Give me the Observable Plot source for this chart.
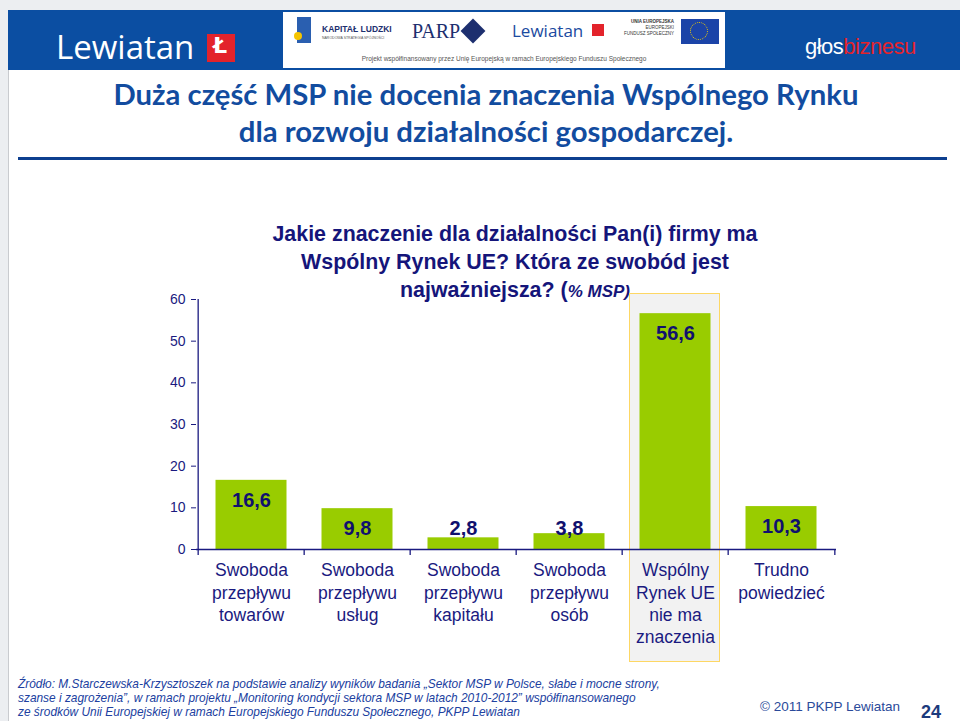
<!DOCTYPE html>
<html>
<head>
<meta charset="utf-8">
<script src="https://cdn.jsdelivr.net/npm/d3@7"></script>
<script src="https://cdn.jsdelivr.net/npm/@observablehq/plot@0.6"></script>
<style>
  html, body { margin: 0; padding: 0; }
  body { width: 960px; height: 721px; position: relative; overflow: hidden; background: #eceef1; font-family: "Liberation Sans", Arial, sans-serif; }
  .abs { position: absolute; }
  #slide { left: 8px; top: 10px; width: 960px; height: 711px; background: #fff; border-left: 1px solid #c9cbcf; }
  #band { left: 8px; top: 10px; width: 960px; height: 60px; background: #0b4ea2; }
  #logos { left: 283px; top: 12px; width: 442px; height: 56px; background: #fff; }
  #title { left: 0; width: 972px; top: 75px; text-align: center; font-family: Lato, "Open Sans", sans-serif; font-weight: 700; font-size: 29.3px; line-height: 37px; color: #124c9f; }
  #rule { left: 18px; top: 157px; width: 929px; height: 3px; background: #0d3f8f; }
  #ctitle { left: 165px; width: 700px; top: 220px; text-align: center; font-weight: 700; font-size: 21.4px; line-height: 28px; color: #15157a; }
  #hl { left: 629px; top: 293px; width: 89px; height: 367px; background: #f2f2f2; border: 1.5px solid #fdd764; }
  #chart { left: 0; top: 280px; }
  #src { left: 18px; top: 677px; font-family: "Liberation Sans Narrow", "Liberation Sans", Arial, sans-serif; font-style: italic; font-size: 11.9px; line-height: 14px; color: #2040a0; }
  #copy { left: 760px; top: 699px; font-family: "Liberation Sans Narrow", "Liberation Sans", Arial, sans-serif; font-size: 13.5px; color: #2a4a9a; }
  #page { left: 921px; top: 704px; font-weight: 700; font-size: 18px; line-height: 16px; color: #1c3a7c; }
</style>
</head>
<body>
<div id="slide" class="abs"></div>
<div id="band" class="abs"></div>
<!-- Lewiatan logo left -->
<div class="abs" style="left:56px;top:24px;font-family:'Open Sans',sans-serif;font-size:33px;color:#fff;letter-spacing:0px;">Lewiatan</div>
<div class="abs" style="left:207px;top:34px;width:28px;height:28px;background:#e3232b;"></div>
<div class="abs" style="left:213px;top:33px;font-family:'DejaVu Sans';font-weight:700;font-size:22px;color:#fff;">Ł</div>
<!-- central logo box -->
<div id="logos" class="abs"></div>
<div class="abs" style="left:297px;top:17px;width:14px;height:26px;background:#2a5fb0;"></div>
<div class="abs" style="left:294px;top:32px;width:8px;height:8px;background:#f5c400;border-radius:50%;"></div>
<div class="abs" style="left:322px;top:24px;font-size:8.5px;font-weight:700;color:#1d2f6f;">KAPITAŁ LUDZKI</div>
<div class="abs" style="left:322px;top:36px;font-size:3.5px;color:#555;">NARODOWA STRATEGIA SPÓJNOŚCI</div>
<div class="abs" style="left:412px;top:20px;font-family:'Liberation Serif',serif;font-size:20px;color:#1d2f6f;">PARP</div>
<div class="abs" style="left:462px;top:20px;width:22px;height:22px;background:#1d2f6f;transform:rotate(45deg) scale(0.8);"></div>
<div class="abs" style="left:512px;top:19px;font-family:'Open Sans',sans-serif;font-size:17px;color:#1b4aa0;">Lewiatan</div>
<div class="abs" style="left:592px;top:24px;width:12px;height:12px;background:#e3232b;"></div>
<div class="abs" style="left:612px;top:19px;width:62px;text-align:right;font-size:4.5px;line-height:6px;color:#333;"><b>UNIA EUROPEJSKA</b><br>EUROPEJSKI<br>FUNDUSZ SPOŁECZNY</div>
<div class="abs" style="left:681px;top:19px;width:38px;height:25px;background:#1b44a8;"></div>
<div class="abs" style="left:690px;top:22px;width:18px;height:18px;border:1.5px dotted #f5d000;border-radius:50%;box-sizing:border-box;"></div>
<div class="abs" style="left:283px;top:55px;width:442px;text-align:center;font-size:6.5px;color:#555;">Projekt współfinansowany przez Unię Europejską w ramach Europejskiego Funduszu Społecznego</div>
<!-- głos biznesu -->
<div class="abs" style="left:805px;top:34px;font-family:'Liberation Sans Narrow','Liberation Sans',sans-serif;font-size:22px;letter-spacing:-0.5px;"><span style="color:#fff">głos</span><span style="color:#e3232b">biznesu</span></div>

<div id="title" class="abs">Duża część MSP nie docenia znaczenia Wspólnego Rynku<br>dla rozwoju działalności gospodarczej.</div>
<div id="rule" class="abs"></div>
<div id="ctitle" class="abs">Jakie znaczenie dla działalności Pan(i) firmy ma<br>Wspólny Rynek UE? Która ze swobód jest<br>najważniejsza? (<i style="font-size:17px">% MSP)</i></div>
<div id="hl" class="abs"></div>
<div id="chart" class="abs"></div>
<div id="src" class="abs">Źródło: M.Starczewska-Krzysztoszek na podstawie analizy wyników badania „Sektor MSP w Polsce, słabe i mocne strony,<br>szanse i zagrożenia”, w ramach projektu „Monitoring kondycji sektora MSP w latach 2010-2012” współfinansowanego<br>ze środków Unii Europejskiej w ramach Europejskiego Funduszu Społecznego, PKPP Lewiatan</div>
<div id="copy" class="abs">© 2011 PKPP Lewiatan</div>
<div id="page" class="abs">24</div>

<script>
const categories = ["towary", "usługi", "kapitał", "osoby", "nie ma znaczenia", "trudno powiedzieć"];
const xLabels = [
  "Swoboda\nprzepływu\ntowarów",
  "Swoboda\nprzepływu\nusług",
  "Swoboda\nprzepływu\nkapitału",
  "Swoboda\nprzepływu\nosób",
  "Wspólny\nRynek UE\nnie ma\nznaczenia",
  "Trudno\npowiedzieć"
];
const values = [16.6, 9.8, 2.8, 3.8, 56.6, 10.3];
const yTicks = [0, 10, 20, 30, 40, 50, 60];

const data = categories.map((c, i) => ({cat: c, label: xLabels[i], value: values[i]}));
const navy = "#1a1a80";
const W = 960, ML = 196, MR = 124;
const bw = (W - ML - MR) / categories.length;

const chart = Plot.plot({
  width: W,
  height: 380,
  marginLeft: ML,
  marginRight: MR,
  marginTop: 19,
  marginBottom: 111,
  style: {background: "transparent", color: navy, fontFamily: "'Liberation Sans', Arial, sans-serif", overflow: "visible"},
  x: {domain: categories, padding: 0, axis: null},
  y: {domain: [0, 60], axis: null},
  marks: [
    Plot.barY(data, {x: "cat", y: "value", fill: "#99cc00", insetLeft: 17.5, insetRight: 17.5}),
    Plot.ruleY([0], {stroke: navy, strokeWidth: 1.3}),
    Plot.ruleX(categories, {x: d => d, dx: -bw / 2, y1: 0, y2: 0, insetBottom: -6, stroke: navy, strokeWidth: 1.3}),
    Plot.ruleX([categories[categories.length - 1]], {x: d => d, dx: bw / 2, y1: 0, y2: 0, insetBottom: -6, stroke: navy, strokeWidth: 1.3}),
    Plot.ruleX([categories[0]], {x: d => d, dx: -bw / 2, y1: 0, y2: yTicks[yTicks.length - 1], stroke: navy, strokeWidth: 1.3}),
    Plot.axisY({ticks: yTicks, label: null, tickSize: 5, tickPadding: 6, fontSize: 14, fill: navy, stroke: navy}),
    Plot.text(data, {x: "cat", y: d => Math.max(d.value, 9.8), dy: 20, text: d => d.value.toFixed(1).replace(".", ","), fontWeight: "bold", fontSize: 20, fill: "#10106e"}),
    Plot.text(data, {x: "cat", frameAnchor: "bottom", lineAnchor: "top", dy: 11, text: "label", fontSize: 17.5, lineHeight: 1.275, fill: navy})
  ]
});
document.getElementById("chart").appendChild(chart);
</script>
</body>
</html>
